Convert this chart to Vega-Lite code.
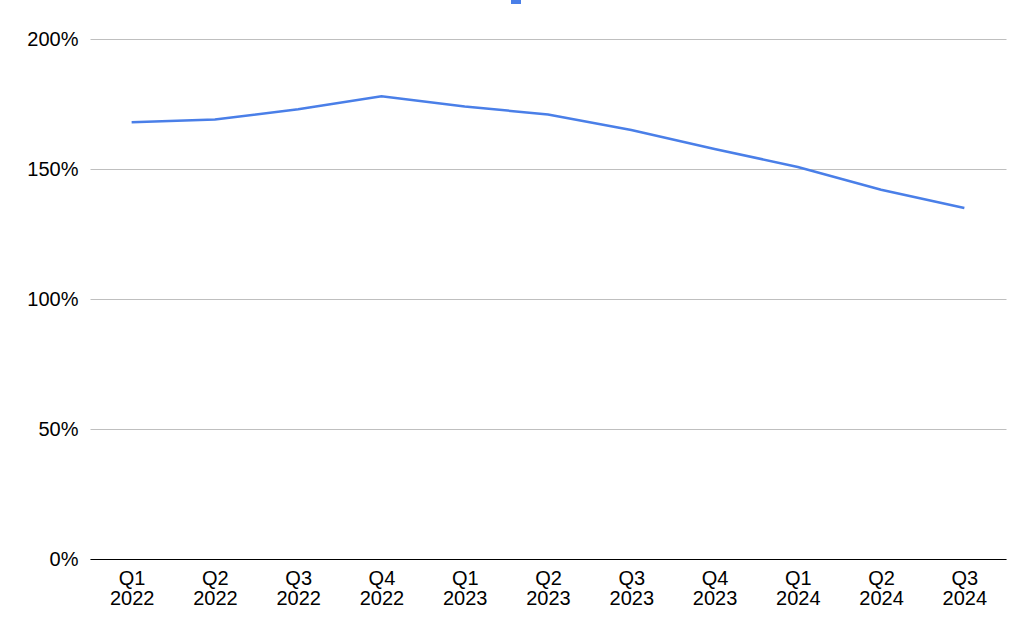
{
  "$schema": "https://vega.github.io/schema/vega-lite/v6.json",
  "width": 916,
  "height": 520,
  "autosize": {"type": "none"},
  "padding": {"left": 90, "top": 39, "right": 18, "bottom": 79},
  "background": "white",
  "config": {
    "font": "Liberation Sans",
    "view": {"stroke": null},
    "axis": {"labelFont": "Liberation Sans", "labelFontSize": 20, "labelColor": "#000000"}
  },
  "data": {
    "values": [
      {"quarter": "Q1 2022", "value": 1.68, "series": "Ratio"},
      {"quarter": "Q2 2022", "value": 1.69, "series": "Ratio"},
      {"quarter": "Q3 2022", "value": 1.73, "series": "Ratio"},
      {"quarter": "Q4 2022", "value": 1.78, "series": "Ratio"},
      {"quarter": "Q1 2023", "value": 1.74, "series": "Ratio"},
      {"quarter": "Q2 2023", "value": 1.71, "series": "Ratio"},
      {"quarter": "Q3 2023", "value": 1.65, "series": "Ratio"},
      {"quarter": "Q4 2023", "value": 1.577, "series": "Ratio"},
      {"quarter": "Q1 2024", "value": 1.508, "series": "Ratio"},
      {"quarter": "Q2 2024", "value": 1.42, "series": "Ratio"},
      {"quarter": "Q3 2024", "value": 1.35, "series": "Ratio"}
    ]
  },
  "mark": {"type": "line", "strokeWidth": 2.5},
  "encoding": {
    "x": {
      "field": "quarter",
      "type": "ordinal",
      "sort": null,
      "title": null,
      "scale": {"paddingInner": 0, "paddingOuter": 0},
      "axis": {
        "labelAngle": 0,
        "ticks": false,
        "grid": false,
        "domainColor": "#000000",
        "domainWidth": 1,
        "labelPadding": 9,
        "labelLineHeight": 20,
        "labelExpr": "split(datum.label, ' ')"
      }
    },
    "y": {
      "field": "value",
      "type": "quantitative",
      "title": null,
      "scale": {"domain": [0, 2], "nice": false},
      "axis": {
        "values": [0, 0.5, 1, 1.5, 2],
        "format": ".0%",
        "domain": false,
        "ticks": false,
        "gridColor": "#bfbfbf",
        "gridWidth": 1,
        "labelPadding": 12
      }
    },
    "color": {
      "field": "series",
      "type": "nominal",
      "scale": {"range": ["#4a7fe8"]},
      "legend": {
        "orient": "none",
        "legendX": 421,
        "legendY": -45,
        "title": null,
        "padding": 0,
        "symbolType": "square",
        "symbolSize": 100,
        "symbolFillColor": "#4a7fe8",
        "symbolStrokeColor": "#4a7fe8",
        "symbolStrokeWidth": 0,
        "symbolOpacity": 1,
        "labelExpr": "''"
      }
    }
  }
}
